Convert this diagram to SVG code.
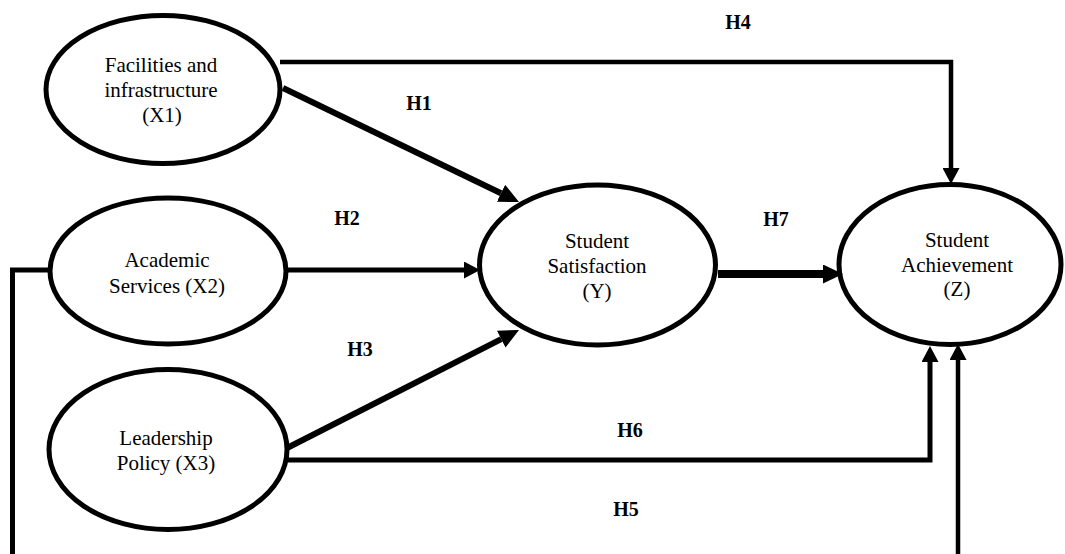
<svg xmlns="http://www.w3.org/2000/svg" width="1065" height="554" viewBox="0 0 1065 554">
<style>
.node{fill:#fff;stroke:#000;stroke-width:5}
.t{font-family:'Liberation Serif','Times New Roman',Times,'DejaVu Serif',serif;font-size:21px;fill:#000;text-anchor:middle}
.lbl{font-family:'Liberation Serif','Times New Roman',Times,'DejaVu Serif',serif;font-size:20px;font-weight:bold;fill:#000;text-anchor:middle}
.c{fill:none;stroke:#000;stroke-linejoin:miter}
</style>
<defs>
<marker id="ah" markerUnits="userSpaceOnUse" viewBox="0 0 16 17" markerWidth="16" markerHeight="17" refX="0" refY="8.5" orient="auto"><path d="M0,0 L16,8.5 L0,17 z" fill="#000"/></marker>
<marker id="ahL" markerUnits="userSpaceOnUse" viewBox="0 0 20 19" markerWidth="20" markerHeight="19" refX="0" refY="9.5" orient="auto"><path d="M0,0 L20,9.5 L0,19 z" fill="#000"/></marker>
</defs>
<rect width="1065" height="554" fill="#fff"/>
<g id="X1">
<ellipse class="node" cx="163" cy="89.5" rx="117" ry="74"/>
<text class="t" x="161" y="72">Facilities and</text>
<text class="t" x="161" y="97">infrastructure</text>
<text class="t" x="162" y="122">(X1)</text>
</g>
<g id="X2">
<ellipse class="node" cx="168" cy="271" rx="118" ry="73"/>
<text class="t" x="167" y="267">Academic</text>
<text class="t" x="167" y="293">Services (X2)</text>
</g>
<g id="X3">
<ellipse class="node" cx="168" cy="449.5" rx="119" ry="80"/>
<text class="t" x="166" y="445">Leadership</text>
<text class="t" x="166" y="470">Policy (X3)</text>
</g>
<g id="Y">
<ellipse class="node" cx="597.5" cy="265" rx="118" ry="80"/>
<text class="t" x="597" y="248">Student</text>
<text class="t" x="597" y="273">Satisfaction</text>
<text class="t" x="597" y="298">(Y)</text>
</g>
<g id="Z">
<ellipse class="node" cx="950" cy="264.5" rx="111" ry="80"/>
<text class="t" x="957" y="247">Student</text>
<text class="t" x="957" y="272">Achievement</text>
<text class="t" x="957" y="296">(Z)</text>
</g>
<g id="connectors">
<path class="c" stroke-width="4.5" d="M280,62 H951 V168" marker-end="url(#ah)"/>
<path class="c" stroke-width="6" d="M283,88 L501,193.3" marker-end="url(#ahL)"/>
<path class="c" stroke-width="5" d="M288,270 H464" marker-end="url(#ah)"/>
<path class="c" stroke-width="6" d="M287,448 L501.2,339.1" marker-end="url(#ahL)"/>
<path class="c" stroke-width="5" d="M287,460 H930 V362" marker-end="url(#ah)"/>
<path class="c" stroke-width="8" d="M718,274 H823" marker-end="url(#ahL)"/>
<path class="c" stroke-width="5" d="M52,270 H12.5 V560"/>
<path class="c" stroke-width="4.5" d="M958,560 V360" marker-end="url(#ah)"/>
</g>
<g id="labels">
<text class="lbl" x="738" y="29">H4</text>
<text class="lbl" x="419" y="110">H1</text>
<text class="lbl" x="347" y="225">H2</text>
<text class="lbl" x="360" y="356">H3</text>
<text class="lbl" x="776" y="226">H7</text>
<text class="lbl" x="630" y="437">H6</text>
<text class="lbl" x="626" y="516">H5</text>
</g>
</svg>
